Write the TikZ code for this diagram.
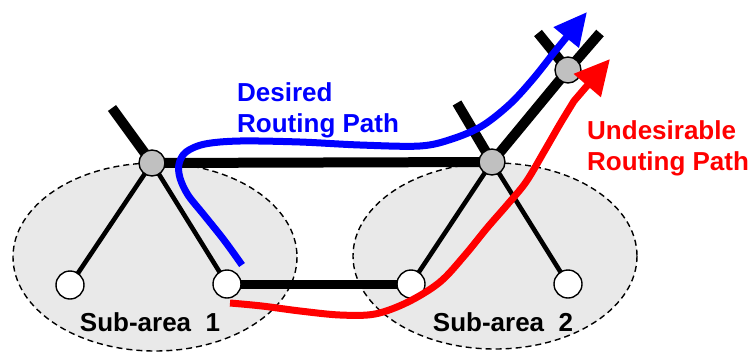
\documentclass[tikz,border=0pt]{standalone}
\usepackage{fontspec}
\setmainfont{Liberation Sans}
\usetikzlibrary{arrows.meta}
\definecolor{areafill}{RGB}{233,233,233}
\definecolor{nodegray}{RGB}{192,192,192}
\tikzset{
  area/.style={draw=black, fill=areafill, line width=1.4pt, dash pattern=on 6pt off 4pt},
  trunk/.style={line width=10pt},
  branch/.style={line width=4.6pt},
  grayrouter/.style={circle, draw=black, fill=nodegray, line width=1.4pt, minimum size=26pt, inner sep=0pt},
  whitehost/.style={circle, draw=black, fill=white, line width=1.4pt, minimum size=28pt, inner sep=0pt},
  lbl/.style={font=\fontsize{26}{31}\selectfont\bfseries, align=left, inner sep=0pt},
  route/.style={line width=7pt, line join=round},
}
\begin{document}
\begin{tikzpicture}[x=1pt, y=-1pt]
\useasboundingbox (0,0) rectangle (751,351);
% sub-areas
\draw[area] (155,257) ellipse [x radius=142, y radius=94];
\draw[area] (495,256) ellipse [x radius=142, y radius=93];
% nodes (positions)
\coordinate (g1c) at (152,163);
\coordinate (g2c) at (492,162);
\coordinate (g3c) at (568,70);
\coordinate (s1) at (112,108);
\coordinate (s2) at (457,103);
\coordinate (s3a) at (538,33);
\coordinate (s3b) at (600,33);
% edges
\draw[trunk] (g1c) -- (s1);
\draw[trunk] (g1c) -- (g2c);
\draw[trunk] (g2c) -- (s2);
\draw[trunk] (g2c) -- (g3c);
\draw[trunk] (g3c) -- (s3a);
\draw[trunk] (g3c) -- (s3b);
\draw[branch] (g1c) -- (70,285);
\draw[branch] (g1c) -- (227,284);
\draw[branch] (g2c) -- (411,284);
\draw[branch] (g2c) -- (568,284);
\draw[line width=9pt] (227,284) -- (411,284);
\node[grayrouter] (g1) at (g1c) {};
\node[grayrouter] (g2) at (g2c) {};
\node[grayrouter] (g3) at (g3c) {};
\node[whitehost] (w1) at (70,285) {};
\node[whitehost] (w2) at (227,284) {};
\node[whitehost] (w3) at (411,284) {};
\node[whitehost] (w4) at (568,284) {};
% routing paths
\draw[route, blue, -{Triangle[length=33pt, width=31pt]}]
  plot[smooth, tension=0.55] coordinates {(242,265) (224,240) (204,215) (188,195) (180,178) (179,164) (186,152) (205,144) (240,141) (300,142) (360,145) (420,146) (452,139) (482,126) (510,104) (533,79) (552,55)}
  -- (587,12);
\draw[route, red, -{Triangle[length=35pt, width=34pt]}]
  plot[smooth, tension=0.55] coordinates {(230,303) (262,306) (300,311) (340,315) (375,314) (408,302) (440,282) (465,255) (487,228) (507,205) (526,182) (545,150) (560,124) (574,101)}
  -- (610,59);
% labels
\node[lbl, blue, anchor=base west] (t1) at (237,132) {Desired\\Routing Path};
\node[lbl, red, anchor=base west] (t2) at (587,170) {Undesirable\\Routing Path};
\node[lbl, anchor=base] (a1) at (150,331) {Sub-area\ \ 1};
\node[lbl, anchor=base] (a2) at (503,331) {Sub-area\ \ 2};
\end{tikzpicture}
\end{document}
